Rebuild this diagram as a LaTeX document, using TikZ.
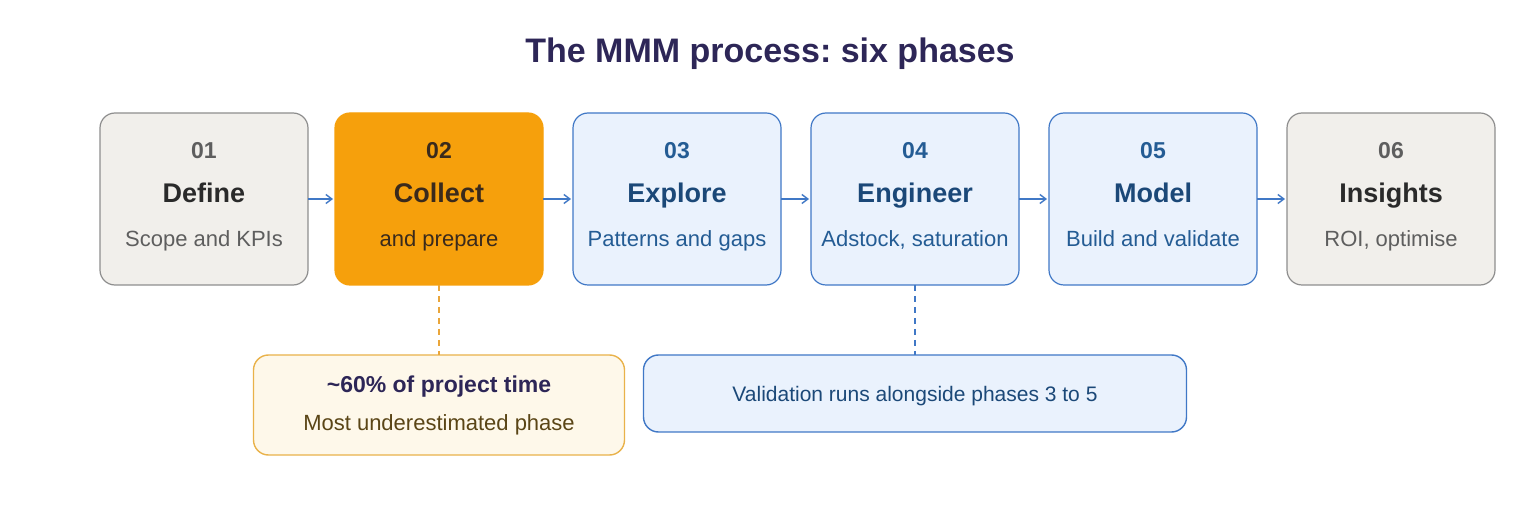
\documentclass[tikz,border=0pt]{standalone}
\usepackage{fontspec}
\setmainfont{Liberation Sans}
\usepackage{xcolor}
\usepackage{tikz}
\usetikzlibrary{arrows.meta, positioning}
\frenchspacing

\definecolor{titleink}{HTML}{2D2657}
\definecolor{greyfill}{HTML}{F1EFEB}
\definecolor{greyline}{HTML}{8E8E8E}
\definecolor{greyink}{HTML}{2A2A2A}
\definecolor{greysoft}{HTML}{5E5E5E}
\definecolor{orangefill}{HTML}{F6A00C}
\definecolor{orangeink}{HTML}{3A2A1C}
\definecolor{bluefill}{HTML}{EAF2FD}
\definecolor{blueline}{HTML}{4078C6}
\definecolor{blueink}{HTML}{1B4878}
\definecolor{bluesoft}{HTML}{245C94}
\definecolor{creamfill}{HTML}{FEF8EA}
\definecolor{creamline}{HTML}{E9B24A}
\definecolor{creamink}{HTML}{5A4516}
\definecolor{dashorange}{HTML}{EAA63A}

\newcommand{\numfont}{\fontsize{23}{44}\selectfont\bfseries}
\newcommand{\headfont}{\fontsize{27}{44}\selectfont\bfseries}

\begin{document}
\begin{tikzpicture}[
    x=1pt, y=-1pt,
    node distance=70pt and 30pt,
    phase/.style={rectangle, draw, rounded corners=15pt, line width=1.2pt, outer sep=0pt, minimum width=208pt, minimum height=172pt, align=center, font=\fontsize{22}{44}\selectfont, execute at end node={\rule[-10pt]{0pt}{0pt}}},
    greyphase/.style={phase, fill=greyfill, draw=greyline, text=greysoft},
    orangephase/.style={phase, fill=orangefill, draw=orangefill, text=orangeink},
    bluephase/.style={phase, fill=bluefill, draw=blueline, text=bluesoft},
    note/.style={rectangle, rounded corners=15pt, line width=1.4pt, outer sep=0pt, align=center},
    arr/.style={-{Straight Barb[length=6pt, width=9pt]}, line width=1.4pt, draw=blueline, shorten >=2pt},
    tie/.style={line width=1.4pt, dash pattern=on 6pt off 5pt},
]
    \useasboundingbox (0,0) rectangle (1537,510);

    % title
    \node[text=titleink, font=\fontsize{34}{40}\selectfont\bfseries] (title) at (770,54) {The MMM process: six phases};

    % phases
    \node[greyphase] (p1) at (204,199) {\numfont 01\\{\headfont\color{greyink}Define}\\Scope and KPIs};
    \node[orangephase, right=27pt of p1] (p2) {\numfont 02\\{\headfont Collect}\\and prepare};
    \node[bluephase, right=of p2] (p3) {{\numfont\color{bluesoft}03}\\{\headfont\color{blueink}Explore}\\Patterns and gaps};
    \node[bluephase, right=of p3] (p4) {{\numfont\color{bluesoft}04}\\{\headfont\color{blueink}Engineer}\\Adstock, saturation};
    \node[bluephase, right=of p4] (p5) {{\numfont\color{bluesoft}05}\\{\headfont\color{blueink}Model}\\Build and validate};
    \node[greyphase, right=of p5] (p6) {\numfont 06\\{\headfont\color{greyink}Insights}\\ROI, optimise};

    % notes
    \node[note, fill=creamfill, draw=creamline, minimum width=371pt, minimum height=100pt, below=of p2, font=\fontsize{22}{38}\selectfont, text=creamink] (timenote) {\rule{0pt}{17pt}{\fontsize{23}{38}\selectfont\bfseries\color{titleink}\textasciitilde60\% of project time}\\Most underestimated phase};
    \node[note, fill=bluefill, draw=blueline, minimum width=543pt, minimum height=77pt, below=of p4, font=\fontsize{21}{26}\selectfont, text=blueink, text depth=0pt] (valnote) {Validation runs alongside phases 3 to 5};

    % arrows
    \draw[arr] (p1) -- (p2);
    \draw[arr] (p2) -- (p3);
    \draw[arr] (p3) -- (p4);
    \draw[arr] (p4) -- (p5);
    \draw[arr] (p5) -- (p6);

    % dashed ties
    \draw[tie, draw=dashorange] (p2) -- (timenote);
    \draw[tie, draw=blueline] (p4) -- (valnote);
\end{tikzpicture}
\end{document}
